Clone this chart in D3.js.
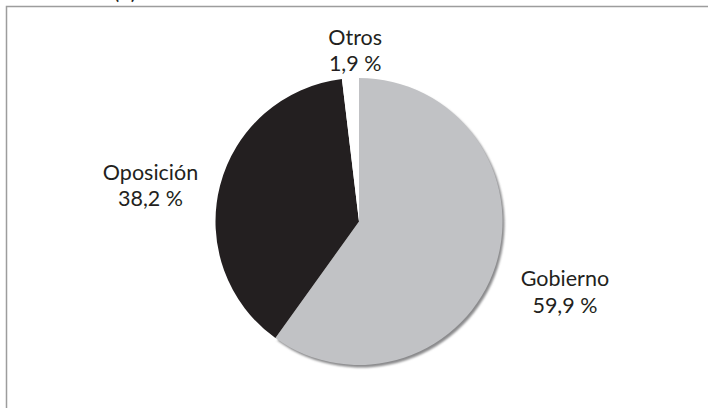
<!DOCTYPE html>
<head>
  <meta charset="utf-8">
  <script src="https://d3js.org/d3.v7.min.js"></script>
  <style>
    body { margin: 0; background: #fff; }
    text { font-family: Lato, "Open Sans", sans-serif; fill: #231f20; }
    .frame { fill: none; stroke: #9d9d9d; stroke-width: 1.5px; }
    .label { font-size: 21.5px; }
  </style>
</head>
<body>
  <script>
    // data
    var categories = ["Gobierno", "Oposición", "Otros"];
    var shares = [59.9, 38.2, 1.9];
    var shareLabels = ["59,9 %", "38,2 %", "1,9 %"];
    var sliceColors = ["#c1c2c5", "#231f20", "#ffffff"];

    var width = 708, height = 408;
    var cx = 359, cy = 221.5, radius = 143.5;

    var svg = d3.select("body").append("svg")
        .attr("width", width)
        .attr("height", height);

    // outer frame (runs off the right and bottom edges)
    svg.append("rect")
      .attr("class", "frame")
      .attr("x", 6.5)
      .attr("y", 6.5)
      .attr("width", 800)
      .attr("height", 600);

    // panel tag, cut off at the top as in the source
    svg.append("text")
      .attr("class", "label")
      .attr("x", 125)
      .attr("y", -1.5)
      .attr("text-anchor", "middle")
      .text("(b)");

    var data = categories.map(function(c, i) {
      return {name: c, value: shares[i], label: shareLabels[i], color: sliceColors[i]};
    });

    var pie = d3.pie()
      .sort(null)
      .value(function(d) { return d.value; });

    var arcs = pie(data);

    var arc = d3.arc()
      .innerRadius(0)
      .outerRadius(radius);

    var labelArc = d3.arc()
      .innerRadius(radius * 1.5)
      .outerRadius(radius * 1.5);

    var center = svg.append("g")
      .attr("transform", "translate(" + cx + "," + cy + ")");

    // soft drop shadow under the grey slice
    var defs = svg.append("defs");
    defs.append("filter").attr("id", "soft")
      .append("feGaussianBlur").attr("stdDeviation", 0.8);

    center.append("path")
      .attr("d", arc(arcs[0]))
      .attr("transform", "translate(2,2.5)")
      .attr("fill", "#8a8a8c")
      .attr("filter", "url(#soft)");

    center.selectAll("path.slice")
      .data(arcs)
      .enter().append("path")
      .attr("class", "slice")
      .attr("d", arc)
      .attr("fill", function(d) { return d.data.color; });

    // label nudges relative to the outer-arc centroid
    var nudge = {
      "Gobierno": [1, -1],
      "Oposición": [0, 12],
      "Otros": [9, 38]
    };

    var labels = center.selectAll("g.lab")
      .data(arcs)
      .enter().append("g")
      .attr("class", "lab")
      .attr("transform", function(d) {
        var c = labelArc.centroid(d), n = nudge[d.data.name];
        return "translate(" + (c[0] + n[0]) + "," + (c[1] + n[1]) + ")";
      });

    labels.append("text")
      .attr("class", "label")
      .attr("text-anchor", "middle")
      .text(function(d) { return d.data.name; });

    labels.append("text")
      .attr("class", "label")
      .attr("text-anchor", "middle")
      .attr("y", 26.5)
      .text(function(d) { return d.data.label; });
  </script>
</body>
